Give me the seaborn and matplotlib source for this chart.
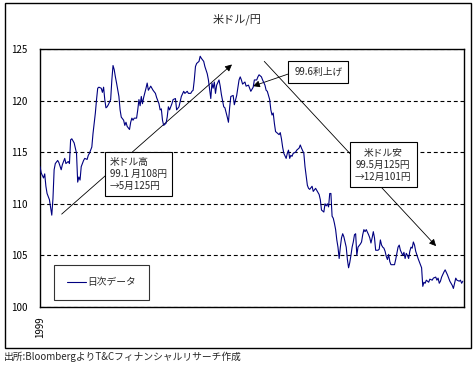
import numpy as np
import pandas as pd
import matplotlib
matplotlib.use("Agg")
import matplotlib.pyplot as plt
from matplotlib.patches import Rectangle
import seaborn as sns

# ── data ─────────────────────────────────────────────────────────────────────
# calendar day offset from the start of 1999, and USD/JPY close
days = [
    0, 1, 3, 4, 5, 6, 8, 10, 11, 12, 13, 15, 16, 18, 19, 21, 22, 24, 25, 26,
    27, 29, 31, 32, 33, 34, 35, 37, 38, 40, 41, 42, 44, 45, 47, 48, 49, 50, 52, 53,
    54, 55, 56, 57, 58, 60, 61, 62, 63, 64, 65, 67, 68, 69, 71, 72, 73, 74, 76, 77,
    78, 79, 80, 82, 83, 84, 85, 86, 87, 88, 90, 91, 92, 94, 95, 96, 98, 99, 101, 102,
    103, 104, 105, 107, 108, 109, 110, 112, 113, 115, 116, 118, 119, 120, 122, 123, 125, 126, 128, 129,
    130, 131, 132, 133, 135, 136, 137, 139, 140, 142, 143, 145, 146, 147, 148, 149, 150, 152, 153, 154,
    156, 157, 159, 160, 161, 162, 164, 165, 167, 169, 170, 171, 172, 174, 175, 177, 178, 179, 181, 182,
    184, 185, 186, 188, 189, 191, 192, 193, 195, 196, 197, 198, 199, 200, 201, 203, 204, 205, 206, 207,
    209, 210, 211, 212, 213, 214, 215, 217, 218, 220, 221, 222, 224, 225, 227, 228, 229, 231, 232, 234,
    235, 237, 238, 239, 241, 242, 243, 244, 245, 246, 247, 248, 249, 250, 251, 252, 253, 254, 255, 256,
    257, 258, 259, 260, 261, 262, 263, 264, 265, 266, 267, 268, 269, 270, 272, 273, 274, 275, 276, 277,
    279, 280, 281, 282, 283, 284, 285, 287, 288, 289, 290, 291, 292, 293, 294, 295, 296, 297, 298, 299,
    301, 302, 303, 304, 305, 306, 308, 309, 310, 311, 312, 313, 314, 315, 316, 317, 318, 319, 321, 322,
    324, 325, 326, 327, 328, 330, 331, 333, 334, 336, 337, 338, 339, 340, 341, 343, 344, 346, 347, 348,
    350, 351, 352, 353, 354, 356, 357, 358, 359,
]
usdjpy = [
    113.6, 113.0, 112.5, 112.9, 111.7, 111.0, 110.4, 108.9, 110.5, 113.3,
    113.9, 114.2, 114.0, 113.3, 113.8, 114.4, 113.9, 114.1, 113.9, 116.2,
    116.3, 115.9, 114.9, 112.1, 112.6, 112.3, 113.6, 114.2, 114.4, 114.3,
    114.7, 114.9, 115.5, 116.8, 118.8, 120.1, 121.2, 121.3, 121.2, 120.8,
    121.3, 120.1, 119.3, 119.4, 119.6, 120.1, 122.0, 123.4, 123.0, 122.3,
    121.7, 120.4, 119.1, 118.4, 118.1, 117.6, 117.9, 117.5, 117.2, 117.9,
    118.3, 118.1, 118.3, 118.3, 119.1, 120.1, 119.5, 120.4, 119.7, 120.3,
    121.2, 121.7, 121.0, 121.4, 121.2, 121.0, 120.7, 120.3, 119.7, 119.1,
    119.2, 118.1, 117.6, 117.8, 118.4, 119.4, 119.1, 119.7, 120.1, 120.2,
    119.1, 119.4, 119.9, 120.4, 120.9, 120.7, 120.9, 120.7, 120.7, 120.9,
    121.0, 122.0, 123.3, 123.6, 123.8, 124.3, 124.1, 123.8, 123.3, 122.6,
    122.0, 120.2, 121.7, 121.2, 121.8, 120.7, 121.5, 122.0, 121.4, 120.6,
    119.4, 119.3, 118.4, 117.9, 119.3, 120.4, 120.5, 119.6, 120.5, 122.0,
    122.3, 122.0, 121.6, 121.8, 121.4, 121.5, 121.2, 120.9, 121.3, 122.0,
    122.0, 122.3, 122.5, 122.3, 122.0, 121.5, 121.0, 120.9, 120.1, 119.1,
    118.6, 118.8, 117.8, 117.0, 116.9, 116.7, 116.9, 116.3, 115.5, 114.9,
    114.4, 114.9, 115.2, 114.4, 114.7, 114.6, 114.9, 115.0, 115.2, 115.4,
    115.7, 115.4, 114.9, 113.6, 111.8, 111.5, 111.4, 111.7, 111.2, 111.5,
    111.3, 110.9, 110.4, 109.4, 109.2, 110.0, 109.8, 110.0, 109.7, 111.0,
    111.0, 108.8, 108.6, 108.1, 107.5, 106.5, 105.8, 104.7, 105.8, 106.7,
    107.1, 106.8, 106.3, 105.8, 104.6, 103.8, 104.3, 105.0, 105.8, 106.3,
    107.0, 107.1, 105.0, 105.8, 106.1, 106.3, 107.0, 107.5, 107.3, 107.5,
    107.0, 106.7, 106.2, 106.7, 107.3, 106.7, 105.5, 105.5, 105.6, 106.5,
    106.0, 105.8, 105.7, 105.4, 104.9, 104.6, 105.1, 104.4, 104.1, 104.1,
    104.1, 104.6, 105.2, 105.8, 106.0, 105.5, 105.0, 105.3, 104.7, 105.2,
    105.0, 104.7, 105.4, 105.8, 105.7, 106.3, 106.0, 105.4, 104.7, 104.4,
    103.8, 102.0, 102.4, 102.3, 102.6, 102.4, 102.7, 102.6, 102.8, 102.9,
    102.6, 102.8, 102.3, 102.5, 102.9, 103.4, 103.6, 103.1, 102.8, 102.5,
    102.1, 101.8, 102.3, 102.8, 102.6, 102.5, 102.6, 102.3, 102.5,
]
y_ticks   = [100, 105, 110, 115, 120, 125]
x_label   = "1999"
TITLE     = "米ドル/円"
SOURCE    = "出所:BloombergよりT&Cフィナンシャルリサーチ作成"
LEGEND    = "日次データ"
NOTE_UP   = "米ドル高\n99.1 月108円\n→5月125円"
NOTE_HIKE = "99.6利上げ"
NOTE_DOWN = "米ドル安\n99.5月125円\n→12月101円"

df = pd.DataFrame({"day": days, "rate": usdjpy})

# ── style ─────────────────────────────────────────────────────────────────────
sns.set_style("white")
plt.rcParams["font.family"] = ["Noto Sans CJK JP", "DejaVu Sans"]
plt.rcParams["font.size"] = 7

fig = plt.figure(figsize=(4.76, 3.68), dpi=100)
ax = fig.add_axes([40/476, 61/368, 424/476, 258/368])

sns.lineplot(data=df, x="day", y="rate", ax=ax, color="#000080",
             lw=0.8, label=LEGEND, zorder=3)

ax.set_xlim(0, 360)
ax.set_ylim(100, 125)
ax.set_yticks(y_ticks)
ax.set_xticks([0])
ax.set_xticklabels([x_label], rotation=90, va="top")
ax.tick_params(axis="both", length=0, labelsize=7, colors="black")
ax.tick_params(axis="y", pad=9)
ax.tick_params(axis="x", pad=7)
ax.set_xlabel("")
ax.set_ylabel("")
ax.grid(axis="y", color="black", linestyle=(0, (3.5, 2.5)), lw=0.8)
for s in ax.spines.values():
    s.set_color("black")
    s.set_linewidth(1.0)

# ── annotations ───────────────────────────────────────────────────────────────
arrow_kw = dict(arrowstyle="-|>", color="black", lw=0.6, mutation_scale=10,
                shrinkA=0, shrinkB=0)
ax.annotate("", xy=(163, 123.5), xytext=(18.4, 109.0), arrowprops=arrow_kw, zorder=2)
ax.annotate("", xy=(180.8, 121.4), xytext=(211.4, 122.6), arrowprops=arrow_kw, zorder=2)
ax.annotate("", xy=(336.3, 105.9), xytext=(190.4, 123.8), arrowprops=arrow_kw, zorder=2)

box_kw = dict(boxstyle="square,pad=0.55", fc="white", ec="black", lw=0.8)
ax.text(83.7, 112.9, NOTE_UP, ha="center", va="center", multialignment="left",
        fontsize=7, linespacing=1.25, bbox=box_kw, zorder=5)
ax.text(236.3, 122.8, NOTE_HIKE, ha="center", va="center",
        fontsize=7, bbox=dict(boxstyle="square,pad=0.6", fc="white", ec="black", lw=0.8), zorder=5)
ax.text(291.4, 113.8, NOTE_DOWN, ha="center", va="center", multialignment="center",
        fontsize=7, linespacing=1.25, bbox=box_kw, zorder=5)

leg = ax.legend(loc="lower left", bbox_to_anchor=(0.034, 0.027), borderaxespad=0,
                borderpad=1.3, handlelength=2.0, handletextpad=0.1,
                frameon=True, fancybox=False, fontsize=7)
leg.get_frame().set_edgecolor("black")
leg.get_frame().set_linewidth(0.8)

# ── figure frame and texts ────────────────────────────────────────────────────
fig.patches.append(Rectangle((5/476, 20/368), 466/476, 345/368, transform=fig.transFigure,
                             fill=False, ec="black", lw=1.0))
fig.text(237/476, 1 - 19/368, TITLE, ha="center", va="center", fontsize=8)
fig.text(4/476, 1 - 357/368, SOURCE, ha="left", va="center", fontsize=7)

fig.savefig("out.png", dpi=100)
